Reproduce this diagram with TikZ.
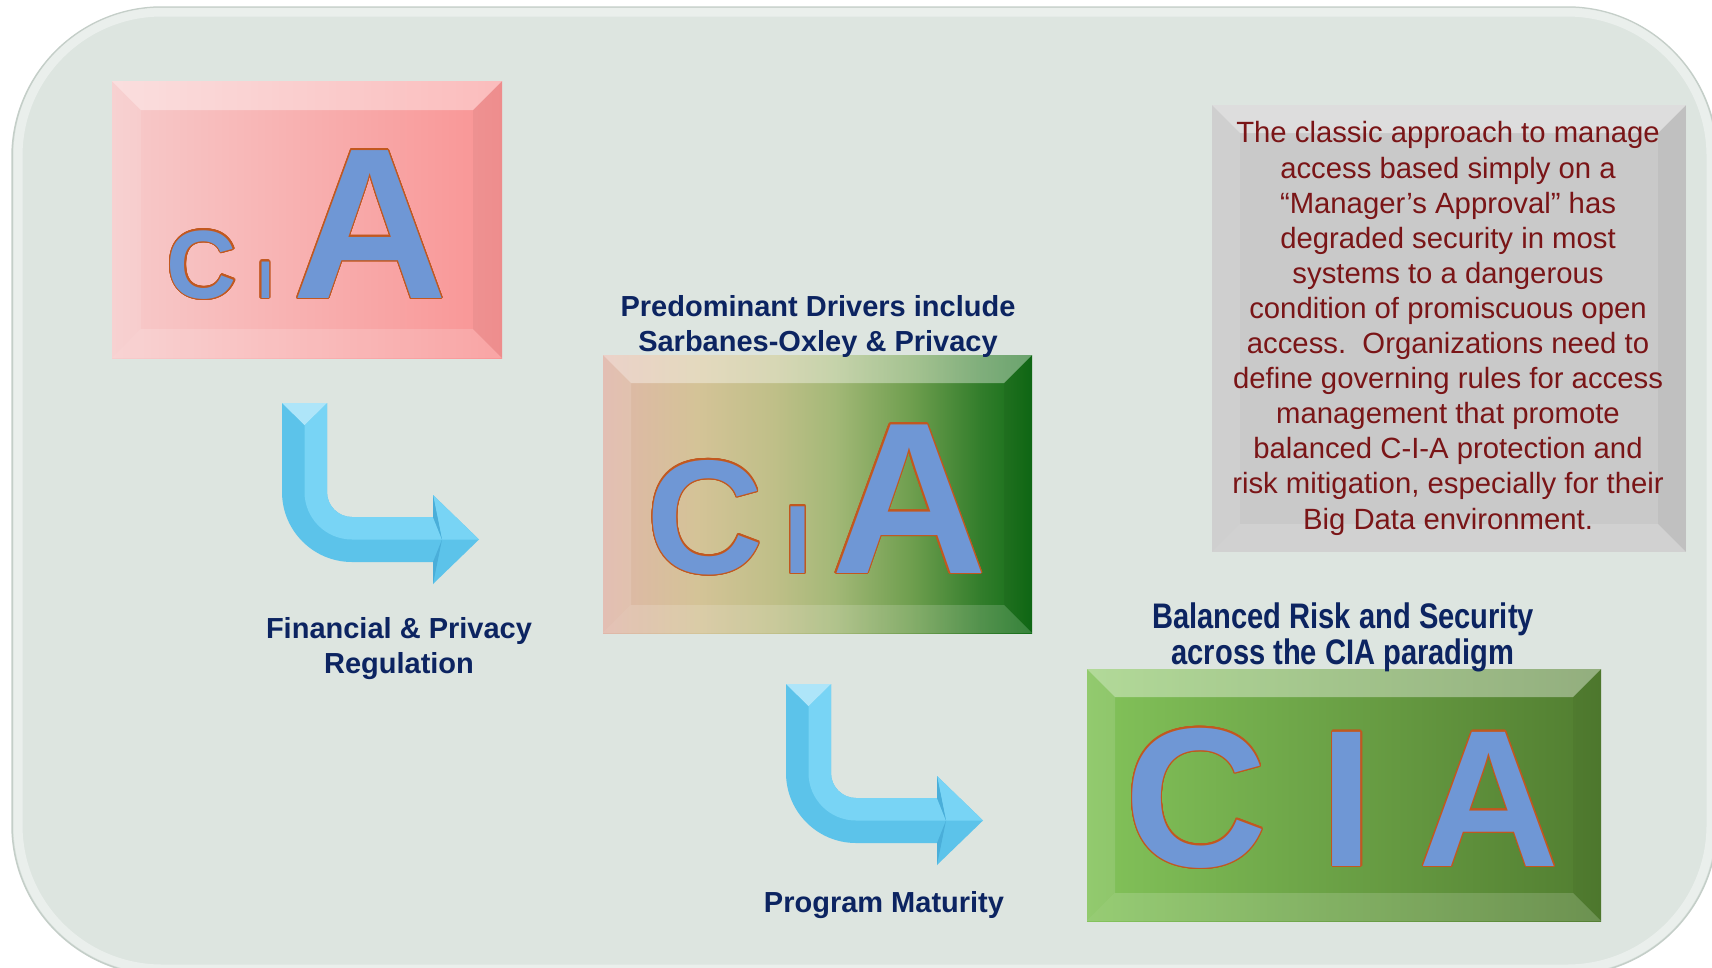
\documentclass[tikz,border=0pt]{standalone}
\usepackage{fontspec}
\setmainfont{Liberation Sans}
\newfontfamily\narrowbold[FakeStretch=0.82]{Liberation Sans Bold}
\usepackage{contour}
\contourlength{1.2pt}
\contournumber{24}
\usetikzlibrary{calc}

\definecolor{panel}{HTML}{DDE5E0}
\definecolor{rim}{HTML}{C4CEC8}
\definecolor{navy}{HTML}{0C2461}
\definecolor{maroon}{HTML}{7A1517}
\definecolor{letterblue}{HTML}{6F97D5}
\definecolor{letteredge}{HTML}{C2581F}
\definecolor{arrowmid}{HTML}{5CC3EA}
\definecolor{arrowlight}{HTML}{78D4F5}
\definecolor{arrowdark}{HTML}{4AAED9}
\definecolor{notegray}{HTML}{C9C9C9}
\definecolor{pinkleft}{HTML}{F7CBCB}
\definecolor{pinkright}{HTML}{F99494}
\definecolor{greenleft}{HTML}{83C35A}
\definecolor{greenright}{HTML}{517D30}
\definecolor{blendA}{HTML}{E0B6A9}
\definecolor{blendB}{HTML}{D4C397}
\definecolor{blendC}{HTML}{BFBF88}
\definecolor{blendD}{HTML}{A3B877}
\definecolor{blendE}{HTML}{6E9E4E}
\definecolor{blendF}{HTML}{327D2B}
\definecolor{blendG}{HTML}{0F6B15}

\pgfdeclarehorizontalshading{blend}{100bp}{color(0bp)=(blendA); color(25bp)=(blendA); color(36bp)=(blendB); color(45bp)=(blendC); color(52bp)=(blendD); color(61bp)=(blendE); color(69bp)=(blendF); color(75bp)=(blendG); color(100bp)=(blendG)}

% schraege kanten einer box
\newcommand{\bevel}[2]{%
  \fill[white,opacity=.38] (#1.north west) -- (#1.north east) -- ($(#1.north east)+(-#2,#2)$) -- ($(#1.north west)+(#2,#2)$) -- cycle;
  \fill[white,opacity=.12] (#1.north west) -- ($(#1.north west)+(#2,#2)$) -- ($(#1.south west)+(#2,-#2)$) -- (#1.south west) -- cycle;
  \fill[white,opacity=.16] (#1.south west) -- ($(#1.south west)+(#2,-#2)$) -- ($(#1.south east)+(-#2,-#2)$) -- (#1.south east) -- cycle;
  \fill[black,opacity=.045] (#1.north east) -- (#1.south east) -- ($(#1.south east)+(-#2,-#2)$) -- ($(#1.north east)+(-#2,#2)$) -- cycle;
}

\tikzset{
  tile/.style={inner sep=0, outer sep=0},
  letter/.style={inner sep=0, anchor=base, text=letterblue},
  navytext/.style={text=navy, align=center, inner sep=0, anchor=base, font=\bfseries\fontsize{29}{35}\selectfont},
  bentarrow/.pic={
    \fill[arrowmid] (0,0) -- (0,89) arc[start angle=180, end angle=90, radius=70] -- (151,159) -- (151,181) -- (197,136.5) -- (151,92) -- (151,114) -- (70,114) arc[start angle=90, end angle=180, radius=25] -- (45,0) -- cycle;
    \fill[arrowlight] (22.5,22) -- (22.5,89) arc[start angle=180, end angle=90, radius=47.5] -- (160,136.5) -- (151,114) -- (70,114) arc[start angle=90, end angle=180, radius=25] -- (45,0) -- cycle;
    \fill[arrowlight] (151,92) -- (197,136.5) -- (160,136.5) -- cycle;
    \fill[arrowdark] (151,159) -- (160,136.5) -- (151,181) -- cycle;
    \fill[arrowdark] (151,92) -- (160,136.5) -- (151,114) -- cycle;
    \fill[arrowlight!60!white] (0,0) -- (45,0) -- (22.5,22) -- cycle;
  }
}

\begin{document}
\begin{tikzpicture}[x=1pt,y=-1pt]
\useasboundingbox (0,0) rectangle (1712,967);
\fill[white] (0,0) rectangle (1712,967);

% hintergrund
\filldraw[fill=panel, draw=rim, line width=1.5pt, rounded corners=150pt] (12,7) rectangle (1717,975);
\draw[white, opacity=.4, line width=9pt, rounded corners=144pt] (18,12) rectangle (1711,969);

% boxen
\node[tile, left color=pinkleft, right color=pinkright, minimum width=390pt, minimum height=277pt] (pinkbox) at (307,219.5) {};
\bevel{pinkbox}{29}
\node[tile, shading=blend, minimum width=429pt, minimum height=278pt] (blendbox) at (817.5,494) {};
\bevel{blendbox}{28}
\node[tile, left color=greenleft, right color=greenright, minimum width=514pt, minimum height=252pt] (greenbox) at (1344,795) {};
\bevel{greenbox}{28}
\node[tile, fill=notegray, minimum width=474pt, minimum height=447pt] (notebox) at (1449,328.5) {};
\bevel{notebox}{28}

% buchstaben
\node[letter, font=\bfseries\fontsize{97}{97}\selectfont] (c1) at (202,298) {\contour{letteredge}{C}};
\node[letter, font=\bfseries\fontsize{53}{53}\selectfont] (i1) at (265.5,298) {\contour{letteredge}{I}};
\node[letter, font=\bfseries\fontsize{215}{215}\selectfont] (a1) at (370,298) {\contour{letteredge}{A}};

\node[letter, font=\bfseries\fontsize{162}{162}\selectfont] (c2) at (705,573) {\contour{letteredge}{C}};
\node[letter, font=\bfseries\fontsize{97}{97}\selectfont] (i2) at (798,573) {\contour{letteredge}{I}};
\node[letter, font=\bfseries\fontsize{216}{216}\selectfont] (a2) at (909,573) {\contour{letteredge}{A}};

\node[letter, font=\bfseries\fontsize{198}{198}\selectfont] (c3) at (1196,866) {\contour{letteredge}{C}};
\node[letter, font=\bfseries\fontsize{195}{195}\selectfont] (i3) at (1347,866) {\contour{letteredge}{I}};
\node[letter, font=\bfseries\fontsize{195}{195}\selectfont] (a3) at (1489,866) {\contour{letteredge}{A}};

% pfeile
\coordinate (arr1) at (282,403);
\coordinate (arr2) at (786,684);
\pic at (arr1) {bentarrow};
\pic at (arr2) {bentarrow};

% texte (base = letzte zeile)
\node[navytext] (fin) at (399,673) {Financial \& Privacy\\Regulation};
\node[navytext] (drivers) at (818,351) {Predominant Drivers include\\Sarbanes-Oxley \& Privacy};
\node[navytext] (maturity) at (884,912) {Program Maturity};
\node[navytext, font=\narrowbold\fontsize{35.5}{36}\selectfont] (balanced) at (1343,664) {Balanced Risk and Security\\across the CIA paradigm};

\node[text=maroon, align=center, inner sep=0, anchor=base, font=\fontsize{29.3}{35.1}\selectfont] (note) at (1448,529) {The classic approach to manage\\access based simply on a\\“Manager’s Approval” has\\degraded security in most\\systems to a dangerous\\condition of promiscuous open\\access.\ \ Organizations need to\\define governing rules for access\\management that promote\\balanced C-I-A protection and\\risk mitigation, especially for their\\Big Data environment.};

\end{tikzpicture}
\end{document}
